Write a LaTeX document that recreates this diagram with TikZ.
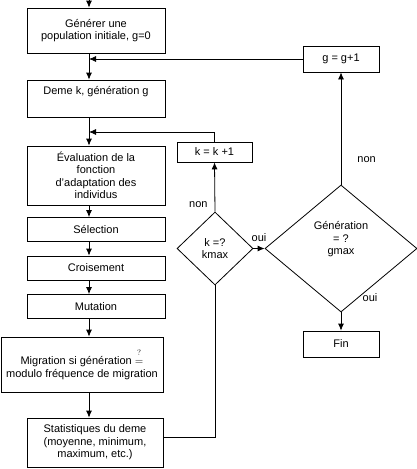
\documentclass[tikz,border=0pt]{standalone}
\usepackage{fontspec}
\setmainfont{Liberation Sans}
\usetikzlibrary{shapes.geometric,arrows.meta}

\tikzset{
  box/.style={draw, rectangle, inner sep=0pt, minimum width=138pt, align=center,
    font=\fontsize{11}{12.5}\selectfont},
  dia/.style={draw, diamond, inner sep=0pt, align=center,
    font=\fontsize{11}{12.5}\selectfont},
  txt/.style={inner sep=0pt, align=center, font=\fontsize{11}{12.5}\selectfont},
  arr/.style={-{Latex[length=7pt,width=6pt]}},
}

\begin{document}
\begin{tikzpicture}[x=1pt,y=-1pt,line width=0.8pt]
  \useasboundingbox (0,0) rectangle (417,469);

  % ---------- Left column ----------
  \coordinate (start) at (89,0);
  \node[box,minimum height=45pt] (init) at (96,30.5) {Générer une\\population initiale, g=0};
  \node[box,minimum height=37pt] (deme) at (96,98.5) {Deme k, génération g\\\strut};
  \node[box,minimum height=59pt] (eval) at (96,175.5)
    {Évaluation de la\\fonction\\d'adaptation des\\individus};
  \node[box,minimum height=24pt] (sel) at (96,229.5) {Sélection};
  \node[box,minimum height=24pt] (crois) at (96,268) {Croisement};
  \node[box,minimum height=24pt] (mut) at (96,306.5) {Mutation};
  \node[box,minimum width=162pt,minimum height=55pt] (migr) at (82,364.5)
    {Migration si génération $\stackrel{\raisebox{3pt}{$\scriptstyle ?$}}{=}$\\modulo fréquence de migration};
  \node[box,minimum width=136pt,minimum height=49pt] (stats) at (95,442.5)
    {Statistiques du deme\\(moyenne, minimum,\\maximum, etc.)};

  % ---------- Right part ----------
  \node[box,minimum width=75pt,minimum height=20pt] (kinc) at (214.5,152) {k = k +1};
  \node[dia,minimum width=76pt,minimum height=73pt] (kdec) at (215,248.5) {k =?\\kmax};
  \node[dia,minimum width=152pt,minimum height=127pt] (gdec) at (341,248.5) {};
  \node[txt] (gdtext) at (341,239.5) {Génération\\= ?\\gmax};
  \node[box,minimum width=76pt,minimum height=26pt] (ginc) at (341,59) {g = g+1};
  \node[box,minimum width=76pt,minimum height=26pt] (fin) at (341,344) {Fin};
  \coordinate (gback) at (89,59);
  \coordinate (kback) at (89,132);

  % ---------- Connectors ----------
  \draw[arr] (start) -- (init.north -| start);
  \draw[arr] (init.south -| start) -- (deme.north -| start);
  \draw[arr] (deme.south -| start) -- (eval.north -| start);
  \draw[arr] (eval.south -| start) -- (sel.north -| start);
  \draw[arr] (sel.south -| start) -- (crois.north -| start);
  \draw[arr] (crois.south -| start) -- (mut.north -| start);
  \draw[arr] (mut.south -| start) -- (migr.north -| start);
  \draw[arr] (migr.south -| start) -- (stats.north -| start);
  \draw ([yshift=5pt]stats.east) -| (kdec.south);
  \draw[arr] (kdec.north) -- node[txt,pos=0.15,left=7pt] (knon) {non} (kinc.south);
  \draw[arr] (kinc.north) |- (kback);
  \draw[arr] (kdec.east) -- node[txt,above=6pt] (koui) {oui} (gdec.west);
  \draw[arr] (gdec.north) -- node[txt,pos=0.22,right=16pt] (gnon) {non} (ginc.south);
  \draw[arr] (ginc.west) -- (gback);
  \draw[arr] (gdec.south) -- (fin.north);
  \node[txt] (goui) at (370,298) {oui};
\end{tikzpicture}
\end{document}
